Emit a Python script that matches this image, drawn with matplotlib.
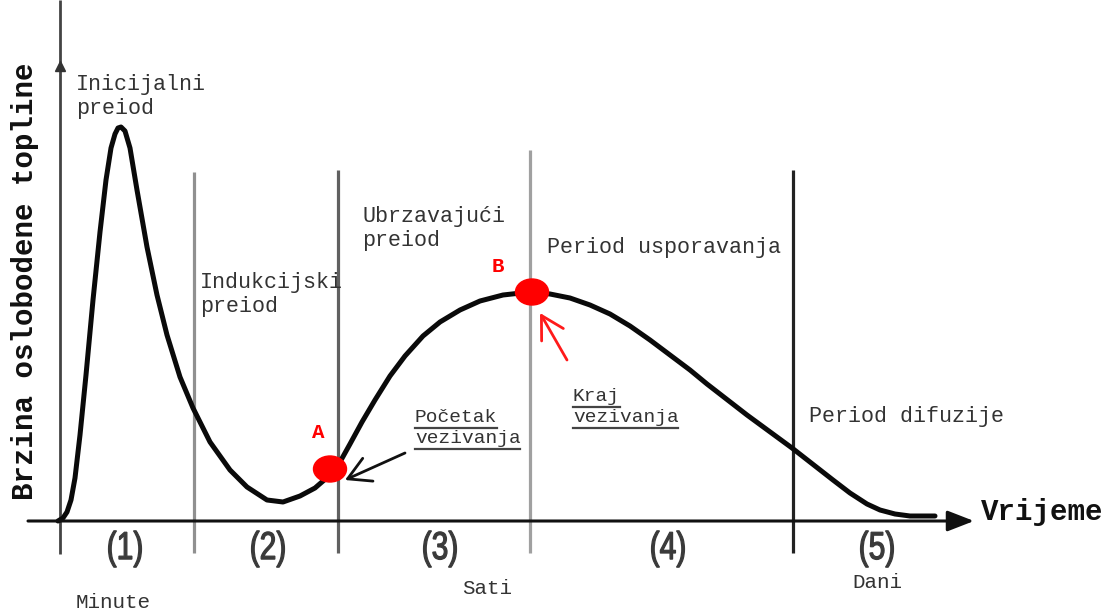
import matplotlib.pyplot as plt
from matplotlib.patches import FancyArrowPatch, Ellipse, PathPatch
from matplotlib.textpath import TextPath
from matplotlib.font_manager import FontProperties
from matplotlib.transforms import Affine2D

# curve (x in px, y in px from top)
curve_x = [58, 63, 67, 71, 75, 80, 86, 93, 100, 106, 111, 115, 118, 121, 125,
           130, 137, 147, 157, 167, 180, 193, 210, 230, 247, 267, 283, 300,
           315, 330, 340, 350, 362, 375, 390, 405, 423, 440, 460, 480, 503,
           530, 550, 570, 590, 610, 630, 650, 670, 690, 707, 747, 792, 833,
           850, 867, 880, 895, 910, 935]
curve_y = [521, 518, 512, 500, 478, 435, 375, 300, 232, 180, 148, 134, 128,
           127, 131, 148, 190, 247, 295, 335, 377, 408, 442, 470, 487, 500,
           502, 496, 488, 475, 462, 444, 422, 400, 376, 356, 336, 322, 310,
           301, 295, 292, 294, 298, 305, 314, 326, 340, 355, 370, 384, 415,
           448, 480, 493, 504, 510, 514, 516, 516]

# period boundaries: x, top, colour
bounds_x = [194, 338, 530, 793]
bounds_top = [172, 170, 150, 170]
bounds_col = ['#909090', '#606060', '#a0a0a0', '#222222']

period_labels = ['(1)', '(2)', '(3)', '(4)', '(5)']
period_x = [125, 268, 440, 668, 877]

# phase names: lines, left x, baseline of first line
phase_lines = [['Inicijalni', 'preiod'], ['Indukcijski', 'preiod'],
               ['Ubrzavajući', 'preiod'], ['Period usporavanja'], ['Period difuzije']]
phase_x = [76, 200, 362, 547, 809]
phase_base = [90, 288, 222, 253, 422]

scale_texts = ['Minute', 'Sati', 'Dani']
scale_x = [113, 487, 877]
scale_y = [603, 589, 583]

note_lines = [['Početak', 'vezivanja'], ['Kraj', 'vezivanja']]
note_x = [415, 573]
note_base = [422, 401]

point_names = ['A', 'B']
point_x = [330, 532]
point_y = [469, 292]
point_label_x = [318, 498]
point_label_y = [432, 267]

mono = 'Liberation Mono'
txt_col = '#333333'

fig = plt.figure(figsize=(11.1, 6.12), dpi=100)
ax = fig.add_axes([0, 0, 1, 1])
ax.set_xlim(0, 1110)
ax.set_ylim(612, 0)
ax.axis('off')

# axes with arrows
ax.annotate('', xy=(974, 521), xytext=(28, 521),
            arrowprops=dict(arrowstyle='-|>,head_length=0.9,head_width=0.35',
                            color='#111111', lw=2.2, mutation_scale=18,
                            shrinkA=0, shrinkB=0))
ax.plot([60, 60], [554, 0], color='#444444', lw=2, solid_capstyle='butt')
ax.plot([60], [66], marker='^', color='#333333', ms=7)

for bx, bt, bc in zip(bounds_x, bounds_top, bounds_col):
    ax.plot([bx, bx], [bt, 553], color=bc, lw=2.3, solid_capstyle='butt')

ax.plot(curve_x, curve_y, color='#0a0a0a', lw=3.6, solid_capstyle='round',
        solid_joinstyle='round')

# condensed period numbers: text path squeezed horizontally
fp = FontProperties(family='Liberation Sans')
for lab, px in zip(period_labels, period_x):
    tp = TextPath((0, 0), lab, size=1, prop=fp)
    ext = tp.get_extents()
    cx, cy = (ext.x0 + ext.x1) / 2, (ext.y0 + ext.y1) / 2
    tr = Affine2D().translate(-cx, -cy).scale(30, -39) \
        .translate(px, 549) + ax.transData
    ax.add_patch(PathPatch(tp, transform=tr, facecolor='#3a3a3a',
                           edgecolor='#3a3a3a', lw=0.9))

for lines, px, pb in zip(phase_lines, phase_x, phase_base):
    for i, line in enumerate(lines):
        ax.text(px, pb + i * 24, line, fontsize=15.6, family=mono, color=txt_col,
                ha='left', va='baseline')

for t, px, py in zip(scale_texts, scale_x, scale_y):
    ax.text(px, py, t, fontsize=15, family=mono, color=txt_col,
            ha='center', va='center')

# underlined notes
for lines, px, pb in zip(note_lines, note_x, note_base):
    for i, line in enumerate(lines):
        yb = pb + i * 21
        ax.text(px, yb, line, fontsize=14, family=mono, color=txt_col,
                ha='left', va='baseline')
        ax.plot([px, px + len(line) * 11.7], [yb + 5.5, yb + 5.5],
                color='#444444', lw=1.6)

# points A and B
for name, px, py, lx, ly in zip(point_names, point_x, point_y,
                                point_label_x, point_label_y):
    ax.add_patch(Ellipse((px, py), 33, 26, color='#ff0000', zorder=5))
    ax.text(lx, ly, name, fontsize=15, family=mono, weight='bold',
            color='#ff0000', ha='center', va='center')

ax.add_patch(FancyArrowPatch((405, 453), (345, 480),
                             arrowstyle='->,head_length=0.8,head_width=0.45',
                             mutation_scale=20, color='#111111', lw=2,
                             shrinkA=0, shrinkB=0, zorder=6))
ax.add_patch(FancyArrowPatch((567, 360), (540, 313),
                             arrowstyle='->,head_length=0.8,head_width=0.45',
                             mutation_scale=20, color='#ff1a1a', lw=2,
                             shrinkA=0, shrinkB=0, zorder=6))

ax.text(1042, 512, 'Vrijeme', fontsize=21, family=mono, weight='bold',
        color='#111111', ha='center', va='center')
ax.text(25, 281, 'Brzina oslobodene topline', fontsize=21, family=mono,
        weight='bold', color='#111111', ha='center', va='center', rotation=90)

fig.savefig('out.png', dpi=100)
